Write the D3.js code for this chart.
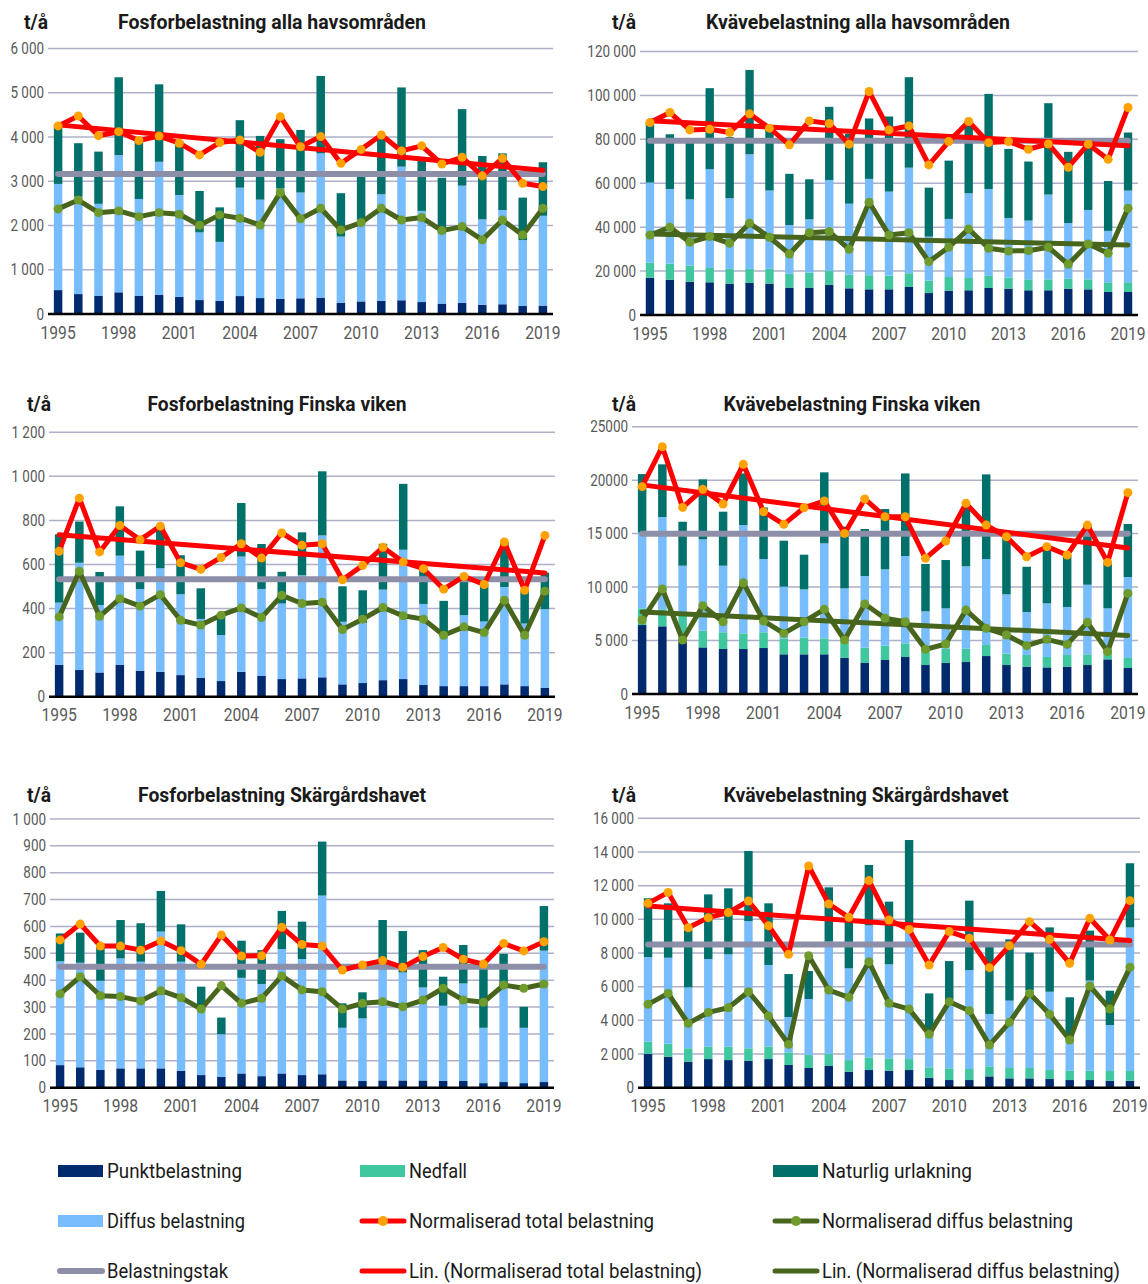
<!DOCTYPE html>
<html>
<head>
<meta charset="utf-8">
<script src="https://cdnjs.cloudflare.com/ajax/libs/d3/7.8.5/d3.min.js"></script>
<style>
body {margin: 0; background: #fff;}
svg text {font-family: Roboto, "Liberation Sans", sans-serif;}
</style>
</head>
<body>
<svg id="chart" width="1148" height="1284"></svg>
<script>
const years = [1995,1996,1997,1998,1999,2000,2001,2002,2003,2004,2005,2006,2007,2008,2009,2010,2011,2012,2013,2014,2015,2016,2017,2018,2019];

// Fosfor, alla havsområden (t/å)
const p1Punkt   = [540,450,415,490,415,430,385,315,295,405,360,340,355,370,250,285,295,310,270,235,250,205,220,180,190];
const p1Diffus  = [2400,2200,2075,3100,2185,3010,2305,1530,1335,2450,2225,2500,2390,3260,1500,1845,2410,3020,2060,1585,2650,1935,2130,1490,2030];
const p1Natur   = [1330,1210,1180,1760,1380,1750,1210,935,780,1525,1440,1110,1415,1750,980,970,1295,1790,1220,1260,1730,1430,1280,960,1210];
const p1NormTot = [4250,4475,4030,4120,3920,4020,3860,3595,3875,3930,3655,4460,3780,4010,3405,3720,4045,3685,3800,3390,3540,3120,3520,2955,2880];
const p1NormDiff= [2375,2575,2290,2330,2200,2290,2255,2005,2240,2165,2010,2745,2150,2390,1900,2065,2390,2125,2180,1885,1975,1675,2125,1785,2390];
const p1Takt = 3165;
const p1Ticks = ["0","1 000","2 000","3 000","4 000","5 000","6 000"];

// Kväve, alla havsområden
const p2Punkt   = [17000,16100,15200,14900,14300,14600,14300,12500,12500,13700,12150,11700,11700,12750,10000,11100,11250,12300,12000,11250,11250,12000,11700,10500,10500];
const p2Nedfall = [6850,7300,7300,6500,6700,6400,6700,6300,6800,6500,6250,6400,6200,6250,5650,6200,5600,5500,5000,5000,5000,4550,4550,4400,4400];
const p2Diffus  = [36450,34000,30200,45000,32200,52200,35700,22200,24300,41300,32300,43900,38300,48100,20050,26450,38600,39600,27200,26750,38600,25350,31600,23400,41750];
const p2Natur   = [27700,24900,27300,36900,27800,38400,27800,23300,18200,33300,31800,27500,34200,41200,22300,26550,31050,43300,31450,26900,41600,32400,30150,22750,26450];
const p2NormTot = [87650,92200,84300,84600,83100,91600,85100,77500,88400,87200,77800,101800,84300,86100,68350,79000,88100,78500,79000,75500,77900,67300,77800,70900,94500];
const p2NormDiff= [36450,39950,33100,35700,32650,41800,35400,27800,37500,38000,29900,51350,36450,37500,24300,30850,39200,30400,29150,29300,30850,23100,32350,28100,48600];
const p2Takt = 79400;
const p2Ticks = ["0","20 000","40 000","60 000","80 000","100 000","120 000"];

// Fosfor, Finska viken
const p3Punkt   = [144,121,110,144,118,113,98,86,71,113,94,80,83,88,56,62,75,80,53,48,48,48,56,48,41];
const p3Diffus  = [283,487,306,496,371,470,367,267,209,523,395,343,468,644,284,273,411,587,368,242,322,293,442,284,356];
const p3Natur   = [310,187,150,224,174,192,177,139,95,243,204,144,195,291,161,148,208,299,160,145,176,172,204,151,166];
const p3NormTot = [660,901,657,777,712,774,608,578,632,694,629,743,687,694,531,596,678,611,581,488,546,509,702,483,732];
const p3NormDiff= [362,569,365,445,411,463,347,325,370,403,359,460,423,429,305,352,405,367,352,279,317,291,438,279,479];
const p3Takt = 533;
const p3Ticks = ["0","200","400","600","800","1 000","1 200"];

// Kväve, Finska viken
const p4Punkt   = [6450,6330,4900,4360,4210,4210,4300,3710,3710,3710,3370,2900,3180,3460,2710,2900,2990,3550,2710,2560,2490,2560,2710,3240,2430];
const p4Nedfall = [1560,1590,2500,1560,1560,1460,1470,1490,1560,1490,1520,1430,1340,1280,1400,1340,1250,1030,1060,1090,970,1090,1000,560,940];
const p4Diffus  = [7090,8630,4600,8540,6230,10130,6850,4840,4520,8890,4990,6700,7140,8160,3620,3770,7700,8040,5550,4020,5020,4490,6510,4210,7570];
const p4Natur   = [5470,4930,4110,5610,5050,4830,4830,4300,3240,6640,5770,4400,5640,7730,4430,4520,5560,7920,5580,4230,5020,4860,5680,4360,4960];
const p4NormTot = [19390,23130,17450,19140,17770,21480,17050,15870,17420,18050,15020,18240,16580,16580,12690,14310,17830,15800,14710,12840,13780,13000,15800,12310,18830];
const p4NormDiff= [6920,9820,5050,8260,6760,10410,6830,5670,6760,7920,5050,8420,7080,6760,4180,4680,7850,6140,5520,4520,5110,4640,6700,3960,9410];
const p4Takt = 14990;
const p4Ticks = ["0","5 000","10 000","15 000","20000","25000"];

// Fosfor, Skärgårdshavet
const p5Punkt   = [84,76,66,72,72,72,63,47,40,53,43,53,47,50,27,25,27,27,27,25,25,17,21,17,21];
const p5Diffus  = [386,389,332,409,397,509,406,253,159,356,343,463,432,665,196,233,430,402,346,280,363,206,355,206,489];
const p5Natur   = [104,112,132,143,143,151,139,76,62,138,126,142,139,201,91,97,167,154,139,108,143,227,122,78,166];
const p5NormTot = [550,609,527,527,512,546,510,459,568,490,491,597,533,527,438,457,473,448,488,522,478,460,537,509,543];
const p5NormDiff= [349,413,342,339,323,361,335,293,380,314,333,416,364,357,293,314,320,301,326,370,326,318,382,370,386];
const p5Takt = 450;
const p5Ticks = ["0","100","200","300","400","500","600","700","800","900","1 000"];

// Kväve, Skärgårdshavet
const p6Punkt   = [2000,1840,1545,1700,1640,1600,1700,1350,1170,1290,950,1050,1010,1050,594,455,455,673,554,554,515,455,455,416,416];
const p6Nedfall = [730,770,795,735,795,740,735,750,770,710,690,750,730,650,616,695,655,597,616,616,535,555,555,574,574];
const p6Diffus  = [5030,5110,3620,5205,5485,7560,4855,2100,3330,6670,5450,7840,5590,7610,1920,4050,5880,3110,4000,4630,4650,2120,5350,2730,8530];
const p6Natur   = [3490,3230,3410,3840,3920,4160,3660,2550,1660,3230,2810,3590,3720,5400,2470,2320,4120,4220,3640,2220,3820,2240,2970,2040,3810];
const p6NormTot = [10950,11600,9500,10100,10400,11090,9620,7920,13170,10910,10120,12300,9960,9400,7290,9270,8870,7130,8430,9860,8810,7390,10060,8770,11110];
const p6NormDiff= [4950,5600,3820,4470,4750,5700,4260,2570,7840,5800,5370,7480,5010,4670,3170,5110,4570,2530,3880,5600,4360,2830,6040,4670,7150];
const p6Takt = 8500;
const p6Ticks = ["0","2 000","4 000","6 000","8 000","10 000","12 000","14 000","16 000"];

const legendLabels = ["Punktbelastning", "Nedfall", "Naturlig urlakning",
  "Diffus belastning", "Normaliserad total belastning", "Normaliserad diffus belastning",
  "Belastningstak", "Lin. (Normaliserad total belastning)", "Lin. (Normaliserad diffus belastning)"];
const legendKinds = [["rect","punkt"],["rect","ned"],["rect","nat"],["rect","diff"],["lineDot","tot"],["lineDot","ndiff"],["line","takt"],["line","tot"],["line","ndiff"]];
const legendTextW = [135, 58, 150, 138, 245, 251, 121, 293, 298];

const col = {
  punkt: "#002a6e", ned: "#40c79f", diff: "#77bdfd", nat: "#00706b",
  tot: "#ff0000", totDot: "#ffa200", ndiff: "#47651c", ndiffDot: "#6f9a2c",
  takt: "#8d8ea8", grid: "#adb0c6"
};

const panels = [
  {title: "Fosforbelastning alla havsområden", titleW: 308, x0: 48, x1: 553, yTop: 48.5, yBot: 314, max: 6000, step: 1000, ticks: p1Ticks,
   layers: [p1Punkt, null, p1Diffus, p1Natur], tot: p1NormTot, nd: p1NormDiff, takt: p1Takt, trendTot: true, trendDiff: false, titleX: 272, titleY: 29, unitX: 24},
  {title: "Kvävebelastning alla havsområden", titleW: 304, x0: 640, x1: 1138, yTop: 51.5, yBot: 315, max: 120000, step: 20000, ticks: p2Ticks,
   layers: [p2Punkt, p2Nedfall, p2Diffus, p2Natur], tot: p2NormTot, nd: p2NormDiff, takt: p2Takt, trendTot: true, trendDiff: true, titleX: 858, titleY: 29, unitX: 612},
  {title: "Fosforbelastning Finska viken", titleW: 259, x0: 49, x1: 555, yTop: 432.3, yBot: 696.7, max: 1200, step: 200, ticks: p3Ticks,
   layers: [p3Punkt, null, p3Diffus, p3Natur], tot: p3NormTot, nd: p3NormDiff, takt: p3Takt, trendTot: true, trendDiff: false, titleX: 277, titleY: 411, unitX: 27},
  {title: "Kvävebelastning Finska viken", titleW: 257, x0: 632, x1: 1138, yTop: 426.7, yBot: 694, max: 25000, step: 5000, ticks: p4Ticks,
   layers: [p4Punkt, p4Nedfall, p4Diffus, p4Natur], tot: p4NormTot, nd: p4NormDiff, takt: p4Takt, trendTot: true, trendDiff: true, titleX: 852, titleY: 411, unitX: 612},
  {title: "Fosforbelastning Skärgårdshavet", titleW: 288, x0: 50, x1: 554, yTop: 819, yBot: 1087.7, max: 1000, step: 100, ticks: p5Ticks,
   layers: [p5Punkt, null, p5Diffus, p5Natur], tot: p5NormTot, nd: p5NormDiff, takt: p5Takt, trendTot: false, trendDiff: false, titleX: 282, titleY: 802, unitX: 27},
  {title: "Kvävebelastning Skärgårdshavet", titleW: 285, x0: 638, x1: 1140, yTop: 818.3, yBot: 1087.7, max: 16000, step: 2000, ticks: p6Ticks,
   layers: [p6Punkt, p6Nedfall, p6Diffus, p6Natur], tot: p6NormTot, nd: p6NormDiff, takt: p6Takt, trendTot: true, trendDiff: false, titleX: 866, titleY: 802, unitX: 612}
];
const layerColors = [col.punkt, col.ned, col.diff, col.nat];

// least squares fit over year index
function linFit(vals) {
  const n = vals.length, xs = d3.range(n);
  const mx = d3.mean(xs), my = d3.mean(vals);
  let sxy = 0, sxx = 0;
  xs.forEach((x, i) => { sxy += (x - mx) * (vals[i] - my); sxx += (x - mx) * (x - mx); });
  const b = sxy / sxx;
  return i => my + b * (i - mx);
}

// narrow the text horizontally (the original uses a condensed face)
function squeeze(sel, k) {
  sel.each(function () {
    const w = this.getComputedTextLength();
    d3.select(this).attr("textLength", w * k).attr("lengthAdjust", "spacingAndGlyphs");
  });
}

const svg = d3.select("#chart");
svg.append("rect").attr("width", 1148).attr("height", 1284).attr("fill", "#fff");

panels.forEach(p => {
  const g = svg.append("g");
  const x = d3.scaleBand().domain(years).range([p.x0, p.x1]).paddingInner(0.58).paddingOuter(0.29);
  const y = d3.scaleLinear().domain([0, p.max]).range([p.yBot, p.yTop]);
  const cx = yr => x(yr) + x.bandwidth() / 2;
  const tickVals = d3.range(0, p.max + p.step / 2, p.step);

  // gridlines
  g.append("g").selectAll("line").data(tickVals.slice(1)).join("line")
    .attr("x1", p.x0).attr("x2", p.x1)
    .attr("y1", d => y(d)).attr("y2", d => y(d))
    .attr("stroke", col.grid).attr("stroke-width", 1.5);

  // y axis labels
  const ya = g.append("g").attr("transform", `translate(${p.x0 - 4},0)`)
    .call(d3.axisLeft(y).tickValues(tickVals).tickSize(0).tickPadding(0).tickFormat((d, i) => p.ticks[i]));
  ya.select(".domain").remove();
  ya.selectAll("text").attr("font-size", 16).attr("fill", "#595959").attr("font-family", "Roboto").call(squeeze, 0.84);

  // stacked bars
  const stackData = years.map((yr, i) => {
    const row = {year: yr};
    p.layers.forEach((arr, k) => row["k" + k] = arr ? arr[i] : 0);
    return row;
  });
  const series = d3.stack().keys(["k0", "k1", "k2", "k3"])(stackData);
  g.append("g").selectAll("g").data(series).join("g")
    .attr("fill", (d, k) => layerColors[k])
    .selectAll("rect").data(d => d).join("rect")
    .attr("x", d => x(d.data.year))
    .attr("width", x.bandwidth())
    .attr("y", d => y(d[1]))
    .attr("height", d => Math.max(0, y(d[0]) - y(d[1])));

  // baseline
  g.append("line").attr("x1", p.x0).attr("x2", p.x1).attr("y1", y(0)).attr("y2", y(0))
    .attr("stroke", "#000").attr("stroke-width", 2.5);

  // x axis labels
  const xa = g.append("g").attr("transform", `translate(0,${p.yBot + 6})`)
    .call(d3.axisBottom(x).tickValues(years.filter((d, i) => i % 3 === 0)).tickSize(0).tickPadding(6));
  xa.select(".domain").remove();
  xa.selectAll("text").attr("font-size", 18).attr("fill", "#595959").attr("font-family", "Roboto").call(squeeze, 0.87);

  const first = years[0], last = years[years.length - 1];

  // belastningstak
  g.append("line").attr("x1", cx(first)).attr("x2", cx(last))
    .attr("y1", y(p.takt)).attr("y2", y(p.takt))
    .attr("stroke", col.takt).attr("stroke-width", 6).attr("stroke-linecap", "round");

  // trend lines
  if (p.trendDiff) {
    const f = linFit(p.nd);
    g.append("line").attr("x1", cx(first)).attr("x2", cx(last))
      .attr("y1", y(f(0))).attr("y2", y(f(years.length - 1)))
      .attr("stroke", col.ndiff).attr("stroke-width", 5).attr("stroke-linecap", "round");
  }
  if (p.trendTot) {
    const f = linFit(p.tot);
    g.append("line").attr("x1", cx(first)).attr("x2", cx(last))
      .attr("y1", y(f(0))).attr("y2", y(f(years.length - 1)))
      .attr("stroke", col.tot).attr("stroke-width", 5).attr("stroke-linecap", "round");
  }

  // normalised series
  const line = d3.line().x((d, i) => cx(years[i])).y(d => y(d));
  [[p.nd, col.ndiff, col.ndiffDot], [p.tot, col.tot, col.totDot]].forEach(([vals, lc, dc]) => {
    g.append("path").attr("d", line(vals)).attr("fill", "none")
      .attr("stroke", lc).attr("stroke-width", 5).attr("stroke-linejoin", "round");
    g.append("g").selectAll("circle").data(vals).join("circle")
      .attr("cx", (d, i) => cx(years[i])).attr("cy", d => y(d)).attr("r", 4.5)
      .attr("fill", dc);
  });

  // titles
  g.append("text").attr("x", p.unitX).attr("y", p.titleY).text("t/å")
    .attr("font-size", 20).attr("font-weight", "bold").attr("fill", "#1a1a1a")
    .attr("textLength", 24).attr("lengthAdjust", "spacingAndGlyphs");
  g.append("text").attr("x", p.titleX).attr("y", p.titleY).attr("text-anchor", "middle").text(p.title)
    .attr("font-size", 21).attr("font-weight", "bold").attr("fill", "#1a1a1a")
    .attr("textLength", p.titleW).attr("lengthAdjust", "spacingAndGlyphs");
});

// legend
const lgX = [58, 360, 773], lgY = [1171, 1221, 1271];
legendLabels.forEach((label, i) => {
  const [kind, key] = legendKinds[i];
  const gx = lgX[i % 3], gy = lgY[Math.floor(i / 3)];
  const g = svg.append("g");
  if (kind === "rect") {
    g.append("rect").attr("x", gx).attr("y", gy - 6).attr("width", 45).attr("height", 12).attr("fill", col[key]);
  } else {
    g.append("line").attr("x1", gx + 2).attr("x2", gx + 44).attr("y1", gy).attr("y2", gy)
      .attr("stroke", col[key]).attr("stroke-width", key === "takt" ? 6 : 5).attr("stroke-linecap", "round");
    if (kind === "lineDot") {
      g.append("circle").attr("cx", gx + 23).attr("cy", gy).attr("r", 5).attr("fill", col[key + "Dot"]);
    }
  }
  g.append("text").attr("x", gx + 49).attr("y", gy + 7).text(label)
    .attr("font-size", 21).attr("fill", "#1a1a1a")
    .attr("textLength", legendTextW[i]).attr("lengthAdjust", "spacingAndGlyphs");
});
</script>
</body>
</html>
